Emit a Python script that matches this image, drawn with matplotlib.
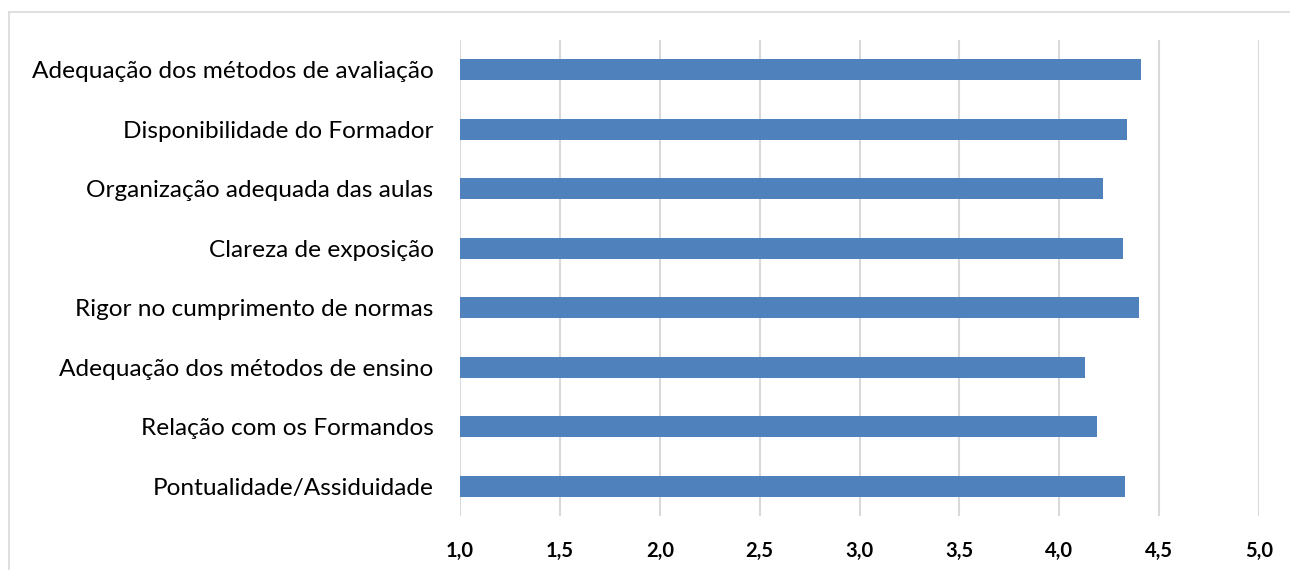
import matplotlib
matplotlib.use('Agg')
import matplotlib.pyplot as plt
from matplotlib.lines import Line2D

# values (bottom to top)
categorias = ['Pontualidade/Assiduidade', 'Relação com os Formandos',
              'Adequação dos métodos de ensino', 'Rigor no cumprimento de normas',
              'Clareza de exposição', 'Organização adequada das aulas',
              'Disponibilidade do Formador', 'Adequação dos métodos de avaliação']
medias = [4.33, 4.19, 4.13, 4.40, 4.32, 4.22, 4.34, 4.41]
ticks = [1.0, 1.5, 2.0, 2.5, 3.0, 3.5, 4.0, 4.5, 5.0]
tick_labels = ['1,0', '1,5', '2,0', '2,5', '3,0', '3,5', '4,0', '4,5', '5,0']

plt.rcParams['font.family'] = ['Lato', 'DejaVu Sans']

fig = plt.figure(figsize=(12.9, 5.7), dpi=100)
# chart area border: only top and left edges are inside the image
bx, by = 8.5/1290, 1 - 12/570
fig.lines.append(Line2D([bx, 1.0], [by, by], transform=fig.transFigure,
                        color='#d9d9d9', linewidth=1.2))
fig.lines.append(Line2D([bx, bx], [0.0, by], transform=fig.transFigure,
                        color='#d9d9d9', linewidth=1.2))

ax = fig.add_axes([460/1290, 1 - 516/570, 799/1290, 476/570])
ax.barh(range(len(categorias)), [m - 1.0 for m in medias], left=1.0,
        height=0.36, color='#4f81bd', zorder=3)

ax.set_xlim(1.0, 5.0)
ax.set_ylim(-0.5, len(categorias) - 0.5)
ax.set_xticks(ticks)
ax.set_xticklabels(tick_labels, fontsize=14.5, fontweight='bold')
ax.set_yticks(range(len(categorias)))
ax.set_yticklabels(categorias, fontsize=17.6)
ax.tick_params(axis='both', length=0)
ax.tick_params(axis='x', pad=18)
ax.tick_params(axis='y', pad=19)
ax.grid(axis='x', color='#d9d9d9', linewidth=1.5, zorder=0)
for s in ax.spines.values():
    s.set_visible(False)

fig.savefig('out.png', dpi=100)
